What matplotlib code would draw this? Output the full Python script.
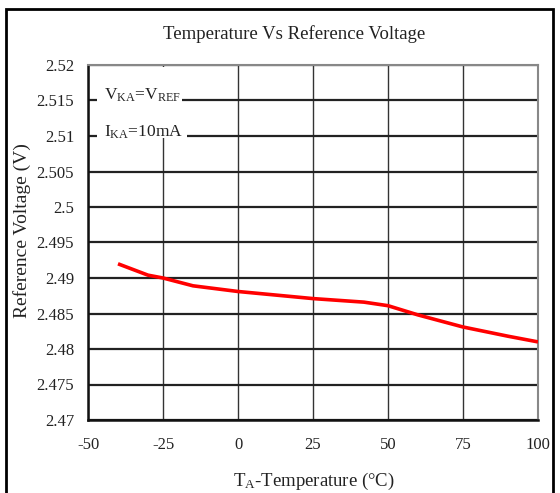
import matplotlib
matplotlib.use("Agg")
import matplotlib.pyplot as plt
from matplotlib.patches import Rectangle

plt.rcParams['font.family'] = ['Liberation Serif', 'Noto Sans CJK TC']
plt.rcParams['mathtext.fontset'] = 'custom'
plt.rcParams['mathtext.rm'] = 'Liberation Serif'
plt.rcParams['mathtext.it'] = 'Liberation Serif'

temps = [-40, -30, -25, -15, 0, 25, 42, 50, 60, 75, 90, 100]
vref = [2.4920, 2.4904, 2.4900, 2.4889, 2.4881, 2.4871, 2.4866, 2.4861, 2.4848, 2.4831, 2.4818, 2.4810]
x_ticks = [-50, -25, 0, 25, 50, 75, 100]
y_ticks = [2.47, 2.475, 2.48, 2.485, 2.49, 2.495, 2.5, 2.505, 2.51, 2.515, 2.52]
y_labels = ["2.47", "2.475", "2.48", "2.485", "2.49", "2.495", "2.5", "2.505", "2.51", "2.515", "2.52"]

fig = plt.figure(figsize=(5.6, 4.93), dpi=100)
ax = fig.add_axes([88/560, 1-420/493, (538-88)/560, (420-65)/493])

ax.plot(temps, vref, color='#ff0000', lw=2.6, solid_capstyle='butt', zorder=3)
ax.set_xlim(-50, 100)
ax.set_ylim(2.47, 2.52)
ax.set_xticks(x_ticks)
ax.set_xticklabels([str(t) for t in x_ticks])
ax.set_yticks(y_ticks)
ax.set_yticklabels(y_labels)
ax.grid(True, axis='y', color='#222222', lw=1.6)
ax.grid(True, axis='x', color='#333333', lw=1.0)
ax.set_axisbelow(True)
ax.tick_params(axis='both', labelsize=12, length=0, pad=10, colors='#222222')
ax.tick_params(axis='x', pad=12)
for s in ['left', 'bottom']:
    ax.spines[s].set_color('#111111')
    ax.spines[s].set_linewidth(1.8)
for s in ['top', 'right']:
    ax.spines[s].set_color('#888888')
    ax.spines[s].set_linewidth(1.5)

fig.text(294/560, 1-34/493, 'Temperature Vs Reference Voltage', ha='center', va='center', fontsize=13.5, color='#222222')
fig.text(22/560, 1-231/493, 'Reference Voltage (V)', ha='center', va='center', rotation=90, fontsize=14, color='#222222')
fig.text(314/560, 1-481/493, r'T$_\mathrm{A}$-Temperature (°C)', ha='center', va='center', fontsize=13.5, color='#222222')

# white label boxes (axes fraction coordinates)
ax.add_patch(Rectangle((0.02, 1-(110-65)/355), 0.189, (110-67)/355, transform=ax.transAxes,
                       facecolor='white', edgecolor='none', zorder=2.5))
ax.add_patch(Rectangle((0.02, 1-(138-65)/355), 0.2, (138-105)/355, transform=ax.transAxes,
                       facecolor='white', edgecolor='none', zorder=2.5))
ax.text(0.035, 0.915, r'V$_\mathrm{KA}$=V$_\mathrm{REF}$', transform=ax.transAxes, fontsize=12.5, color='#222222', va='center', ha='left', zorder=4)
ax.text(0.035, 0.81, r'I$_\mathrm{KA}$=10mA', transform=ax.transAxes, fontsize=12.5, color='#222222', va='center', ha='left', zorder=4)

fig.patches.append(Rectangle((6/560, -0.05), (553-6)/560, 1.05-9/493, transform=fig.transFigure, fill=False, edgecolor='black', lw=2, figure=fig))

fig.savefig('out.png', dpi=100)
